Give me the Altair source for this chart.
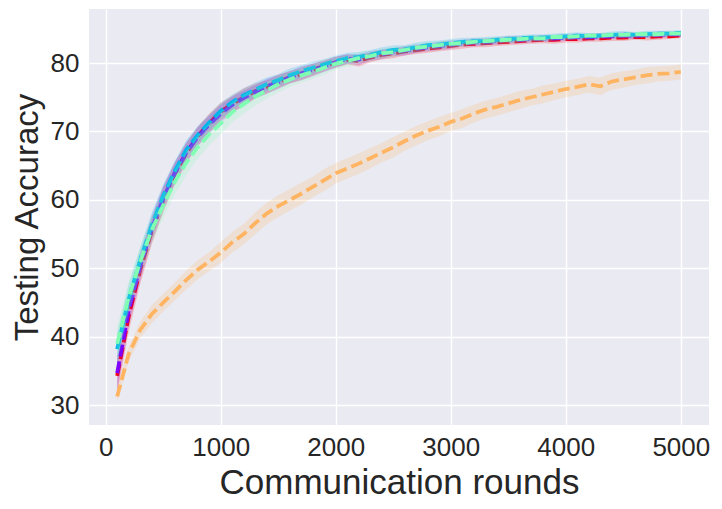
import altair as alt
import pandas as pd

rounds = list(range(100, 5001, 100))

purple = [34.7, 43.8, 50.3, 55.8, 60.2, 63.9, 66.9, 69.2, 71.0, 72.6,
          73.9, 74.9, 75.8, 76.6, 77.2, 77.9, 78.5, 79.0, 79.5, 80.1,
          80.6, 80.5, 81.0, 81.3, 81.6, 81.8, 82.1, 82.3, 82.5, 82.7,
          82.9, 83.0, 83.1, 83.2, 83.4, 83.4, 83.5, 83.6, 83.6, 83.7,
          83.8, 83.8, 83.9, 83.9, 84.0, 84.0, 84.1, 84.1, 84.2, 84.2]
blue = [38.2, 45.5, 51.2, 56.3, 60.6, 64.2, 67.3, 69.5, 71.3, 73.0,
        74.3, 75.3, 76.1, 76.9, 77.5, 78.2, 78.8, 79.3, 79.8, 80.3,
        80.7, 80.9, 81.2, 81.6, 81.9, 82.0, 82.3, 82.6, 82.7, 82.9,
        83.1, 83.2, 83.2, 83.4, 83.5, 83.6, 83.7, 83.7, 83.8, 83.9,
        84.0, 83.9, 84.0, 84.1, 84.2, 84.1, 84.2, 84.3, 84.3, 84.4]
green = [39.0, 45.8, 51.0, 55.6, 59.2, 62.6, 65.4, 67.7, 69.6, 71.2,
         72.8, 74.0, 75.1, 76.0, 76.9, 77.6, 78.2, 78.7, 79.3, 79.9,
         80.3, 80.7, 81.0, 81.4, 81.6, 81.9, 82.2, 82.4, 82.6, 82.8,
         82.9, 83.1, 83.2, 83.3, 83.4, 83.5, 83.6, 83.6, 83.8, 83.8,
         83.9, 84.0, 84.0, 84.1, 84.1, 84.2, 84.2, 84.2, 84.3, 84.3]
red = [34.3, 43.0, 49.8, 55.4, 60.0, 63.8, 66.8, 69.3, 71.2, 72.9,
       74.0, 75.0, 75.9, 76.5, 77.3, 77.9, 78.4, 79.0, 79.6, 80.1,
       80.5, 80.3, 80.8, 81.2, 81.4, 81.7, 81.9, 82.1, 82.3, 82.5,
       82.7, 82.8, 82.9, 83.0, 83.1, 83.2, 83.3, 83.4, 83.4, 83.5,
       83.5, 83.6, 83.6, 83.7, 83.7, 83.8, 83.8, 83.9, 83.9, 84.0]
orange = [31.3, 37.5, 41.0, 43.3, 45.0, 46.6, 48.3, 49.8, 51.0, 52.3,
          53.8, 55.0, 56.6, 58.0, 59.1, 60.0, 60.9, 61.9, 62.9, 63.9,
          64.6, 65.3, 66.1, 66.9, 67.7, 68.6, 69.4, 70.1, 70.7, 71.4,
          71.9, 72.6, 73.2, 73.6, 74.1, 74.6, 75.0, 75.4, 75.8, 76.2,
          76.5, 76.9, 76.6, 77.3, 77.6, 77.9, 78.2, 78.4, 78.5, 78.7]

purple_sd = [2.6, 2.3, 2.1, 1.9, 1.8, 1.6, 1.5, 1.4, 1.3, 1.3,
             1.2, 1.1, 1.0, 1.1, 1.0, 0.9, 1.0, 0.9, 0.8, 0.8,
             0.7, 0.8, 0.7, 0.7, 0.6, 0.7, 0.6, 0.6, 0.6, 0.6,
             0.5, 0.6, 0.5, 0.5, 0.6, 0.5, 0.5, 0.5, 0.5, 0.5,
             0.5, 0.5, 0.5, 0.4, 0.5, 0.5, 0.4, 0.5, 0.4, 0.4]
blue_sd = [2.4, 2.1, 1.9, 1.8, 1.7, 1.5, 1.4, 1.3, 1.2, 1.2,
           1.1, 1.0, 1.1, 1.0, 0.9, 1.0, 0.9, 0.9, 0.8, 0.8,
           0.8, 0.7, 0.7, 0.7, 0.7, 0.6, 0.7, 0.6, 0.6, 0.6,
           0.6, 0.5, 0.6, 0.5, 0.5, 0.5, 0.5, 0.5, 0.5, 0.5,
           0.5, 0.5, 0.4, 0.5, 0.5, 0.4, 0.5, 0.4, 0.4, 0.4]
green_sd = [2.5, 2.3, 2.1, 2.0, 1.9, 1.8, 1.8, 1.7, 1.6, 1.6,
            1.5, 1.4, 1.3, 1.2, 1.2, 1.1, 1.1, 1.0, 1.0, 0.9,
            0.8, 0.8, 0.7, 0.7, 0.7, 0.6, 0.6, 0.6, 0.6, 0.6,
            0.5, 0.5, 0.5, 0.5, 0.5, 0.5, 0.5, 0.5, 0.4, 0.5,
            0.4, 0.4, 0.4, 0.4, 0.4, 0.4, 0.4, 0.4, 0.4, 0.4]
red_sd = [2.6, 2.3, 2.1, 1.9, 1.8, 1.6, 1.5, 1.4, 1.4, 1.3,
          1.2, 1.3, 1.1, 1.0, 1.0, 0.9, 0.9, 0.9, 0.8, 0.8,
          0.7, 0.8, 0.7, 0.7, 0.7, 0.6, 0.6, 0.6, 0.6, 0.6,
          0.6, 0.5, 0.6, 0.5, 0.5, 0.5, 0.5, 0.5, 0.6, 0.5,
          0.5, 0.5, 0.5, 0.5, 0.5, 0.4, 0.5, 0.5, 0.4, 0.4]
orange_sd = [0.9, 1.1, 1.2, 1.3, 1.3, 1.3, 1.4, 1.4, 1.4, 1.5,
             1.5, 1.5, 1.6, 1.6, 1.6, 1.6, 1.6, 1.5, 1.6, 1.5,
             1.5, 1.5, 1.5, 1.4, 1.5, 1.4, 1.4, 1.4, 1.4, 1.3,
             1.4, 1.3, 1.3, 1.3, 1.3, 1.3, 1.2, 1.3, 1.2, 1.2,
             1.2, 1.2, 1.3, 1.2, 1.2, 1.1, 1.2, 1.1, 1.1, 1.1]

series = [
    ("red", red, red_sd, "#ff0000"),
    ("purple", purple, purple_sd, "#8000ff"),
    ("blue", blue, blue_sd, "#00b4ec"),
    ("green", green, green_sd, "#80ffb4"),
    ("orange", orange, orange_sd, "#ffb462"),
]

x_enc = alt.X("round:Q",
              scale=alt.Scale(domain=[-145, 5245], nice=False, zero=False),
              axis=alt.Axis(values=[0, 1000, 2000, 3000, 4000, 5000],
                            title="Communication rounds", labelPadding=9,
                            titlePadding=5, format="d"))
y_dom = alt.Scale(domain=[27.12, 87.89], nice=False, zero=False)
y_axis = alt.Axis(values=[30, 40, 50, 60, 70, 80], title="Testing Accuracy",
                  labelPadding=10, titlePadding=6, titleFontSize=33)

layers = []
for name, vals, sd, col in series:
    df = pd.DataFrame({
        "round": rounds,
        "acc": vals,
        "lo": [v - s for v, s in zip(vals, sd)],
        "hi": [v + s for v, s in zip(vals, sd)],
    })
    base = alt.Chart(df)
    band = base.mark_area(opacity=0.2, color=col).encode(
        x=x_enc,
        y=alt.Y("lo:Q", scale=y_dom, axis=y_axis),
        y2="hi:Q",
    )
    line = base.mark_line(color=col, strokeWidth=3.8, strokeDash=[12, 5]).encode(
        x=x_enc,
        y=alt.Y("acc:Q", scale=y_dom, axis=y_axis),
    )
    layers += [band, line]

chart = alt.layer(*layers).properties(
    width=620,
    height=416,
    padding={"left": 81, "top": 1, "right": 5, "bottom": 90},
    autosize=alt.AutoSizeParams(type="none"),
).configure_view(
    fill="#eaeaf2", stroke=None
).configure_axis(
    grid=True, gridColor="white", gridWidth=1.4,
    domain=False, ticks=False,
    labelFont="Liberation Sans", labelFontSize=26, labelColor="#262626",
    titleFont="Liberation Sans", titleFontSize=35, titleFontWeight="normal",
    titleColor="#262626",
)

chart.save("out.html", embed_options={"renderer": "svg", "actions": False})
